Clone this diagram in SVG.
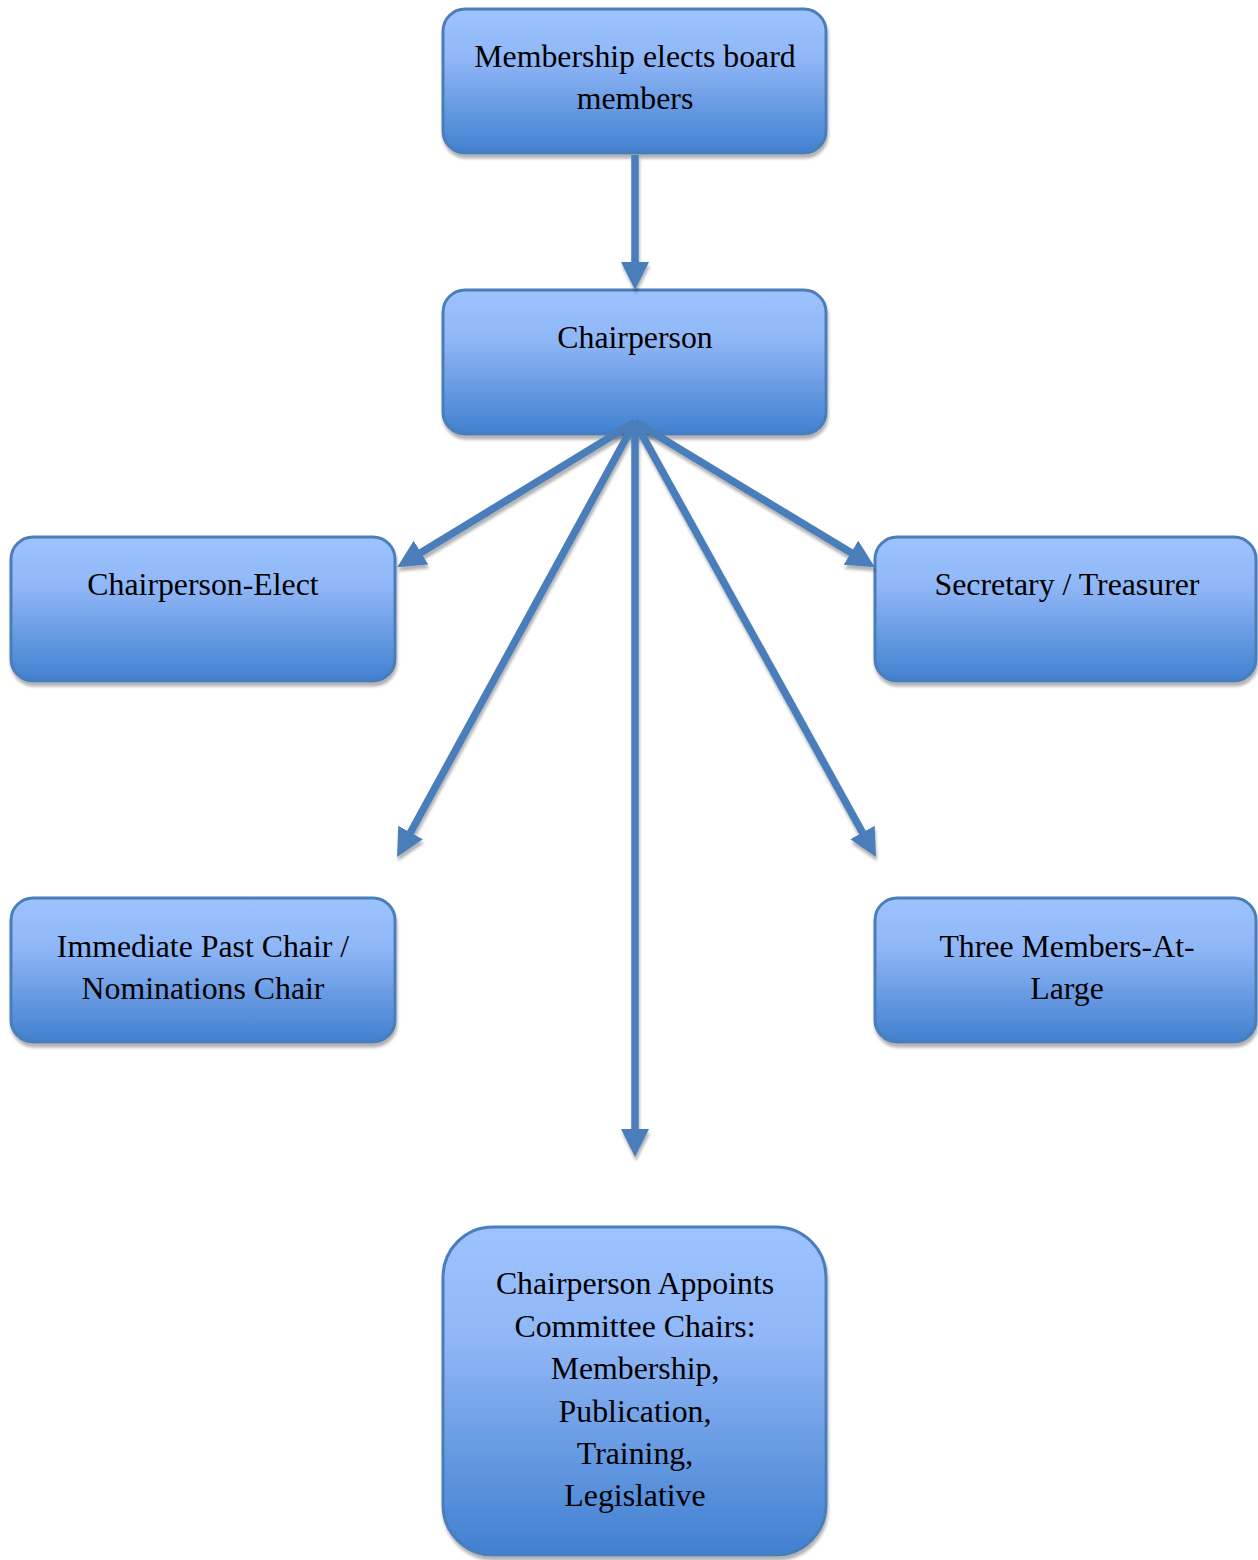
<svg xmlns="http://www.w3.org/2000/svg" width="1258" height="1560" viewBox="0 0 1258 1560">
  <defs>
    <linearGradient id="boxFill" x1="0" y1="0" x2="0" y2="1">
      <stop offset="0" stop-color="#9dc3ff"/>
      <stop offset="0.35" stop-color="#8fb6f6"/>
      <stop offset="1" stop-color="#4180cf"/>
    </linearGradient>
    <filter id="shadow" x="-10%" y="-10%" width="120%" height="130%">
      <feDropShadow dx="1" dy="4" stdDeviation="1.5" flood-color="#000" flood-opacity="0.3"/>
    </filter>
    <marker id="arrow" markerUnits="userSpaceOnUse" viewBox="0 0 28 28" markerWidth="28" markerHeight="28" refX="8" refY="14" orient="auto">
      <path d="M0,0 L28,14 L0,28 z" fill="#4a7ebb"/>
    </marker>
  </defs>
  <style>
    .box { fill: url(#boxFill); stroke: #4a7ebb; stroke-width: 3; filter: url(#shadow); }
    .lbl { font-family: "Liberation Serif", "Times New Roman", serif; font-size: 31.8px; fill: #000; text-anchor: middle; }
    .conn { stroke: #4a7ebb; stroke-width: 7.5; fill: none; marker-end: url(#arrow); }
  </style>
  <rect width="1258" height="1560" fill="#fff"/>

  <g id="membership">
    <rect class="box" x="443" y="9" width="383" height="144" rx="22"/>
    <text class="lbl" x="635" y="67">Membership elects board</text>
    <text class="lbl" x="635" y="109">members</text>
  </g>

  <g id="chairperson">
    <rect class="box" x="443" y="290" width="383" height="144" rx="22"/>
    <text class="lbl" x="635" y="348">Chairperson</text>
  </g>

  <g id="chairperson-elect">
    <rect class="box" x="11" y="537" width="384" height="144" rx="22"/>
    <text class="lbl" x="203" y="595">Chairperson-Elect</text>
  </g>

  <g id="secretary-treasurer">
    <rect class="box" x="875" y="537" width="381" height="144" rx="22"/>
    <text class="lbl" x="1067" y="595">Secretary / Treasurer</text>
  </g>

  <g id="past-chair">
    <rect class="box" x="11" y="898" width="384" height="144" rx="22"/>
    <text class="lbl" x="203" y="957">Immediate Past Chair /</text>
    <text class="lbl" x="203" y="999">Nominations Chair</text>
  </g>

  <g id="members-at-large">
    <rect class="box" x="875" y="898" width="381" height="144" rx="22"/>
    <text class="lbl" x="1067" y="957">Three Members-At-</text>
    <text class="lbl" x="1067" y="999">Large</text>
  </g>

  <g id="committee-chairs">
    <rect class="box" x="443" y="1227" width="383" height="328" rx="50"/>
    <text class="lbl" x="635" y="1294">Chairperson Appoints</text>
    <text class="lbl" x="635" y="1337">Committee Chairs:</text>
    <text class="lbl" x="635" y="1379">Membership,</text>
    <text class="lbl" x="635" y="1422">Publication,</text>
    <text class="lbl" x="635" y="1464">Training,</text>
    <text class="lbl" x="635" y="1506">Legislative</text>
  </g>

  <g id="connectors" filter="url(#shadow)">
    <line class="conn" x1="635" y1="155" x2="635" y2="270"/>
    <line class="conn" x1="635" y1="422" x2="414.2" y2="556.8"/>
    <line class="conn" x1="635" y1="422" x2="857.8" y2="556.8"/>
    <line class="conn" x1="635" y1="422" x2="406.7" y2="839.5"/>
    <line class="conn" x1="635" y1="422" x2="866.3" y2="839.5"/>
    <line class="conn" x1="635" y1="422" x2="635" y2="1137"/>
  </g>
</svg>
